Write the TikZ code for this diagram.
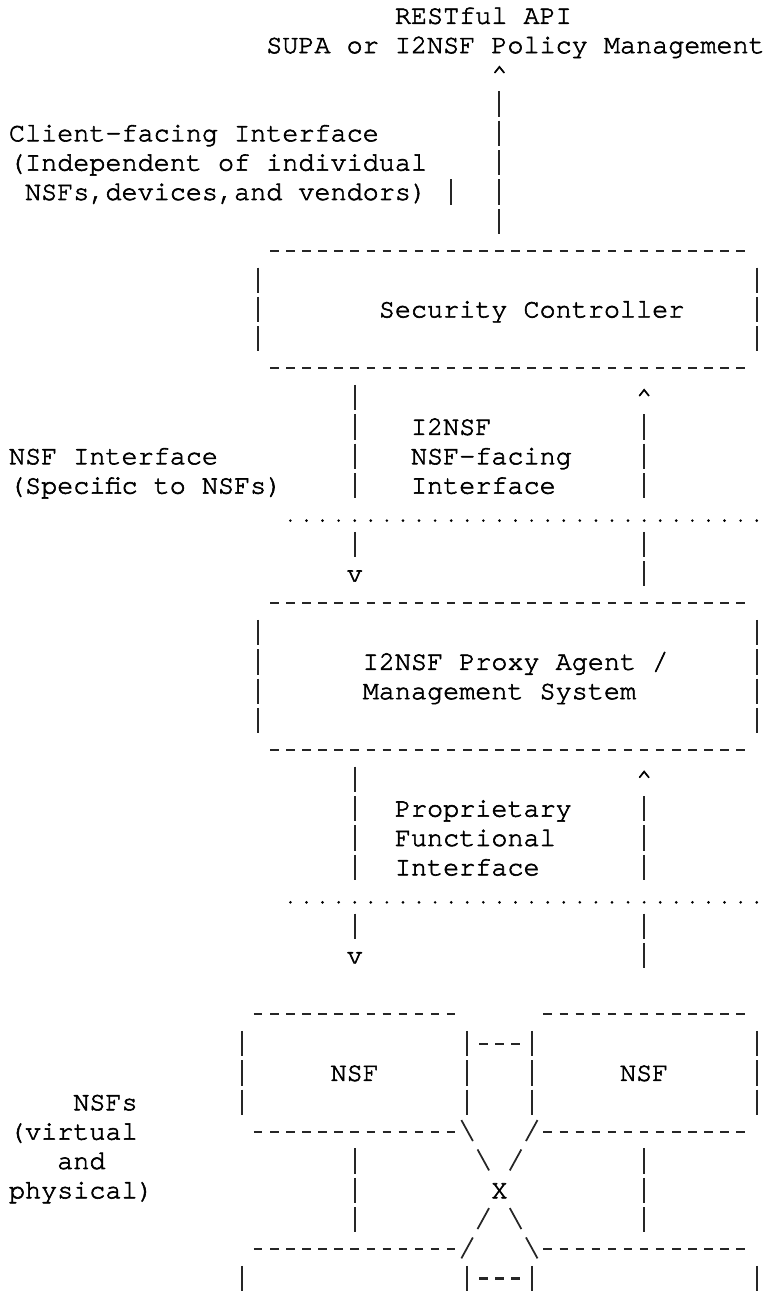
\documentclass[tikz,border=0pt]{standalone}
\usepackage{fontspec}
% Courier-style typewriter face, 0.6em advance = one character cell
\newfontfamily\cursorface[FakeBold=2.2]{texgyrecursor-regular.otf}
\newcommand\asciifont{\cursorface\fontsize{20.1pt}{22pt}\selectfont}
\tikzset{
  lbl/.style={font=\asciifont, inner sep=0pt, outer sep=0pt, anchor=base west, text=black},
  hrule/.style={draw=black!85, line width=1.6pt, dash pattern=on 6.375pt off 5.685pt},
  vrule/.style={draw=black!85, line width=1.5pt, dash pattern=on 18.97pt off 3.05pt},
  dotrow/.style={draw=black, line width=2.2pt, line cap=round, dash pattern=on 0pt off 12.06pt},
  slashline/.style={draw=black!85, line width=1.3pt,
    dash pattern=on 17.93pt off 7.19pt on 17.93pt off 32.30pt on 17.93pt off 7.19pt on 17.93pt off 7.19pt}
}
\begin{document}
% one x unit = one character column, one y unit = one text line (downwards)
\begin{tikzpicture}[x=12.06pt,y=-22.023pt]
\fill[white] (-0.5597,0) rectangle (46.891,44);
\useasboundingbox (-0.5597,0) rectangle (46.891,44);

% ---------- top: policy management API ----------
\node[lbl] (rest) at (24,0.81) {RESTful API};
\node[lbl] (supa) at (16,1.81) {SUPA or I2NSF Policy Management};
\node[lbl] (api-tip) at (30,2.81) {\textasciicircum};
\coordinate (api-foot) at (30.5,3.11);
\coordinate (sc-top) at (30.5,7.97);
\draw[vrule] (api-foot) -- (sc-top);

\node[lbl] (cfi1) at (0,4.81) {Client-facing Interface};
\node[lbl] (cfi2) at (0,5.81) {(Independent of individual};
\node[lbl] (cfi3) at (1,6.81) {NSFs,devices,and vendors)};
\draw[vrule] (27.5,6.11) -- (27.5,6.97);

% ---------- Security Controller ----------
\node[lbl] (sc) at (23,10.81) {Security Controller};
\draw[hrule] (16.236,8.54) -- (45.764,8.54);
\draw[hrule] (16.236,12.54) -- (45.764,12.54);
\draw[vrule] (15.5,9.11) -- (15.5,11.97);
\draw[vrule] (46.5,9.11) -- (46.5,11.97);

% ---------- NSF-facing interface ----------
\coordinate (sc-down) at (21.5,13.11);
\coordinate (pa-in) at (21.5,18.97);
\draw[vrule] (sc-down) -- (21.5,16.97) (21.5,18.11) -- (pa-in);
\node[lbl] (pa-tip) at (21,19.81) {v};
\node[lbl] (sc-tip) at (39,13.81) {\textasciicircum};
\coordinate (sc-up) at (39.5,14.11);
\coordinate (pa-out) at (39.5,19.97);
\draw[vrule] (sc-up) -- (39.5,16.97) (39.5,18.11) -- (pa-out);

\node[lbl] (nfi1) at (25,14.81) {I2NSF};
\node[lbl] (nfi2) at (25,15.81) {NSF-facing};
\node[lbl] (nfi3) at (25,16.81) {Interface};
\node[lbl] (nsfif1) at (0,15.81) {NSF Interface};
\node[lbl] (nsfif2) at (0,16.81) {(Specific to NSFs)};
\draw[dotrow] (17.5,17.73) -- (46.6,17.73);

% ---------- Proxy agent / management system ----------
\node[lbl] (pa1) at (22,22.81) {I2NSF Proxy Agent /};
\node[lbl] (pa2) at (22,23.81) {Management System};
\draw[hrule] (16.236,20.54) -- (45.764,20.54);
\draw[hrule] (16.236,25.54) -- (45.764,25.54);
\draw[vrule] (15.5,21.11) -- (15.5,24.97);
\draw[vrule] (46.5,21.11) -- (46.5,24.97);

% ---------- proprietary functional interface ----------
\coordinate (pa-down) at (21.5,26.11);
\coordinate (nsf-in) at (21.5,31.97);
\draw[vrule] (pa-down) -- (21.5,29.97) (21.5,31.11) -- (nsf-in);
\node[lbl] (nsf-tip) at (21,32.81) {v};
\node[lbl] (pa-uptip) at (39,26.81) {\textasciicircum};
\coordinate (pa-up) at (39.5,27.11);
\coordinate (nsf-out) at (39.5,32.97);
\draw[vrule] (pa-up) -- (39.5,29.97) (39.5,31.11) -- (nsf-out);

\node[lbl] (pfi1) at (24,27.81) {Proprietary};
\node[lbl] (pfi2) at (24,28.81) {Functional};
\node[lbl] (pfi3) at (24,29.81) {Interface};
\draw[dotrow] (17.5,30.73) -- (46.6,30.73);

% ---------- NSF boxes ----------
\node[lbl] (nsfa) at (20,36.81) {NSF};
\node[lbl] (nsfb) at (38,36.81) {NSF};
% upper left box
\draw[hrule] (15.236,34.54) -- (27.764,34.54);
\draw[hrule] (15.236,38.54) -- (27.764,38.54);
\draw[vrule] (14.5,35.11) -- (14.5,37.97);
\draw[vrule] (28.5,35.11) -- (28.5,37.97);
% upper right box
\draw[hrule] (33.236,34.54) -- (45.764,34.54);
\draw[hrule] (33.236,38.54) -- (45.764,38.54);
\draw[vrule] (32.5,35.11) -- (32.5,37.97);
\draw[vrule] (46.5,35.11) -- (46.5,37.97);
% link between the upper boxes
\draw[hrule] (29.236,35.54) -- (31.764,35.54);

% lower boxes
\draw[hrule] (15.236,42.54) -- (27.764,42.54);
\draw[hrule] (33.236,42.54) -- (45.764,42.54);
\draw[vrule] (14.5,43.11) -- (14.5,43.97);
\draw[vrule] (28.5,43.11) -- (28.5,43.97);
\draw[vrule] (32.5,43.11) -- (32.5,43.97);
\draw[vrule] (46.5,43.11) -- (46.5,43.97);
\draw[hrule] (29.236,43.54) -- (31.764,43.54);

% straight links between upper and lower boxes
\draw[vrule] (21.5,39.11) -- (21.5,41.97);
\draw[vrule] (39.5,39.11) -- (39.5,41.97);

% crossed links
\coordinate (xa-start) at (28.133,38.146);
\coordinate (xa-end) at (32.867,42.854);
\coordinate (xb-start) at (32.867,38.146);
\coordinate (xb-end) at (28.133,42.854);
\draw[slashline] (xa-start) -- (xa-end);
\draw[slashline] (xb-start) -- (xb-end);
\node[lbl] (cross) at (30,40.81) {X};

\node[lbl] (nsfs1) at (4,37.81) {NSFs};
\node[lbl] (nsfs2) at (0,38.81) {(virtual};
\node[lbl] (nsfs3) at (3,39.81) {and};
\node[lbl] (nsfs4) at (0,40.81) {physical)};
\end{tikzpicture}
\end{document}
